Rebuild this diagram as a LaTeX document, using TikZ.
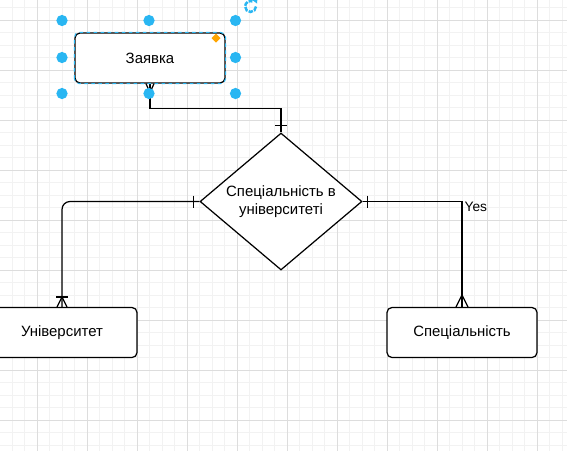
\documentclass[tikz,border=0pt]{standalone}
\usepackage{fontspec}
\setmainfont{Liberation Sans}
\usetikzlibrary{shapes.geometric}

\definecolor{gridminor}{HTML}{F2F2F2}
\definecolor{gridmajor}{HTML}{DDDDDD}
\definecolor{selblue}{HTML}{29B6F2}
\definecolor{handleorange}{HTML}{FFA500}

\tikzset{
    entity/.style = {draw, rounded corners=2.8pt, fill=white, minimum width=3cm, minimum height=1cm, line width=0.7pt, font=\fontsize{8.5}{10}\selectfont},
    relation/.style = {draw, diamond, fill=white, minimum width=3.24cm, minimum height=2.74cm, inner sep=0pt, line width=0.7pt},
    link/.style = {line width=0.7pt},
    handle/.style = {fill=selblue},
}

\begin{document}
\begin{tikzpicture}[x = 0.02cm, y = -0.02cm]
    \useasboundingbox (0,0) rectangle (567,451);
    \clip (0,0) rectangle (567,451);
    \fill[white] (0,0) rectangle (567,451);
    % grid
    \foreach \k in {0,...,45} {
        \draw[gridminor, line width=0.57pt] (-0.2+12.5*\k,0) -- (-0.2+12.5*\k,451);
        \draw[gridminor, line width=0.57pt] (0,7.8+12.5*\k) -- (567,7.8+12.5*\k);
    }
    \foreach \k in {0,...,10} {
        \draw[gridmajor, line width=0.57pt] (37.3+50*\k,0) -- (37.3+50*\k,451);
        \draw[gridmajor, line width=0.57pt] (0,20.3+50*\k) -- (567,20.3+50*\k);
    }

    \node[entity] at (150,58) (zayavka) {Заявка} ;
    \node[relation] at (281,201.5) (dia) {} ;
    \node[align=center, font=\fontsize{8.5}{10}\selectfont] at (dia.center) (diatext) {Спеціальність в\\університеті} ;
    \node[entity] at (62,332.5) (uni) {Університет} ;
    \node[entity] at (462,332.5) (spec) {Спеціальність} ;

    % connectors
    \draw[link] (zayavka.south) -- ++(0,25) -| (dia.north) ;
    \draw[link] (zayavka.south) ++(-4,0) -- ++(4,9) -- ++(4,-9) ;
    \draw[link] (dia.north) ++(-6,-7) -- ++(12,0) ;

    \draw[link, rounded corners=4.5pt] (dia.west) -| (uni.north) ;
    \draw[link] (dia.west) ++(-6,-6) -- ++(0,12) ;
    \draw[link] (uni.north) ++(-5,0) -- ++(5,-10) -- ++(5,10) ;
    \draw[link] (uni.north) ++(-6,-10) -- ++(12,0) ;

    \draw[link] (dia.east) -| (spec.north) node[pos=0.5, anchor=north west, inner sep=0pt, xshift=1.2pt, font=\fontsize{7.8}{9}\selectfont] (yes) {Yes} ;
    \draw[link] (dia.east) ++(5,-6) -- ++(0,12) ;
    \draw[link] (spec.north) ++(-6,0) -- ++(6,-12) -- ++(6,12) ;

    % selection
    \draw[selblue, line width=0.6pt, dash pattern=on 2pt off 2pt, rounded corners=2.8pt] (zayavka.south west) rectangle (zayavka.north east) ;
    \foreach \hx/\hy in {62/20.5, 149/20.5, 235.5/20.5, 62/57.5, 235.5/57.5, 62/93.5, 149/93.5, 235.5/93.5}
        \fill[handle] (\hx,\hy) circle (3.2pt) ;
    \fill[handleorange] (216,33.5) -- (220.5,38) -- (216,42.5) -- (211.5,38) -- cycle ;
    \draw[selblue, line width=1.4pt, dash pattern=on 2.6pt off 0.7pt] (256,6.5) arc[start angle=0, end angle=-290, radius=3.1pt] ;
    \fill[selblue] (251.5,-0.5) -- (257,3.5) -- (257.5,-2.5) -- cycle ;
\end{tikzpicture}
\end{document}
